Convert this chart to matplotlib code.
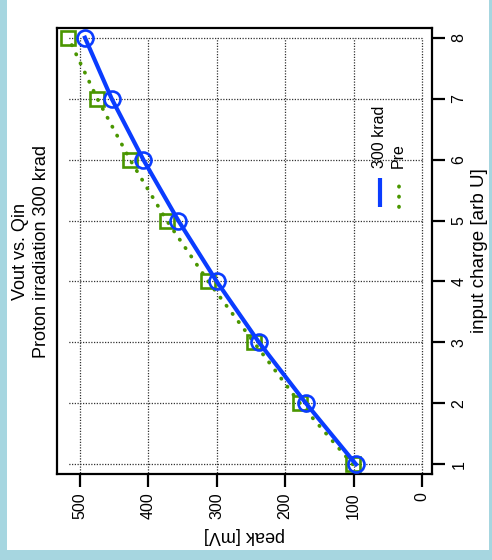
import numpy as np
import matplotlib.pyplot as plt
from matplotlib.patches import Rectangle

plt.rcParams["font.family"] = ["Liberation Sans", "DejaVu Sans"]

# ------------------------------------------------------------
# data: peak amplitude vs input charge, before / after irradiation
# ------------------------------------------------------------
charge = [1, 2, 3, 4, 5, 6, 7, 8]
peak_300krad = [96.5, 169.6, 238.3, 300.1, 356.3, 407.5, 453.7, 492.7]
peak_pre = [101.3, 178.4, 245.6, 312.4, 373.2, 426.9, 474.7, 517.1]

peak_ticks = [0, 100, 200, 300, 400, 500]

BLUE = "#0a3cff"
GREEN = "#4a9600"

# ------------------------------------------------------------
# figure (plot is drawn turned on its side: peak runs right-to-left)
# ------------------------------------------------------------
fig = plt.figure(figsize=(4.92, 5.6), dpi=100)
fig.patch.set_facecolor("#a6d6e0")
fig.patches.append(Rectangle((7 / 492, 1 - 550 / 560), 482 / 492, 550 / 560,
                             transform=fig.transFigure, facecolor="white",
                             edgecolor="none", zorder=-10))

ax = fig.add_axes([57 / 492, 1 - 474 / 560, 375 / 492, 446 / 560])
ax.set_zorder(1)
ax.set_xlim(533.6, -14.6)
ax.set_ylim(0.841, 8.159)

# dotted grid
ax.vlines(peak_ticks, 0, max(charge), colors="#333333", linestyles=(0, (1, 1.2)),
          linewidth=0.9, zorder=1)
ax.hlines(charge, 0, max(peak_pre), colors="#333333", linestyles=(0, (1, 1.2)),
          linewidth=0.9, zorder=1)

ax.plot(peak_pre, charge, color=GREEN, linestyle=(0, (0.1, 2.6)), linewidth=2.7,
        dash_capstyle="round", marker="s", markersize=10, markerfacecolor="none",
        markeredgewidth=1.9, zorder=3)
ax.plot(peak_300krad, charge, color=BLUE, linewidth=3.0, marker="o",
        markersize=11.5, markerfacecolor="none", markeredgewidth=1.9, zorder=4)

# axes styling
for s in ax.spines.values():
    s.set_linewidth(1.6)
ax.yaxis.tick_right()
ax.set_xticks(peak_ticks)
ax.set_yticks(charge)
ax.tick_params(axis="both", length=9, width=1.6, labelsize=11.5)
ax.tick_params(axis="x", labelrotation=90, pad=4)
ax.tick_params(axis="y", labelrotation=90, pad=5)
for lab in ax.get_yticklabels():
    lab.set_va("center")

ax.set_xlabel("peak [mV]", fontsize=13, rotation=180, labelpad=6)
fig.text(479 / 492, 1 - 251 / 560, "input charge [arb U]", rotation=90,
         ha="center", va="center", fontsize=13.5)

# legend keys
ax.plot([0.861, 0.861], [0.599, 0.664], color=BLUE, linewidth=3.0,
        transform=ax.transAxes, solid_capstyle="butt")
ax.plot([0.911, 0.911], [0.599, 0.664], color=GREEN, linestyle=(0, (0.1, 2.6)),
        linewidth=2.7, dash_capstyle="round", transform=ax.transAxes)
ax.text(0.861, 0.686, "300 krad", rotation=90, ha="center", va="bottom",
        fontsize=11.5, transform=ax.transAxes)
ax.text(0.911, 0.686, "Pre", rotation=90, ha="center", va="bottom",
        fontsize=11.5, transform=ax.transAxes)

# title on the left side
fig.text(21 / 492, 1 - 251 / 560, "Vout vs. Qin", rotation=90, ha="center",
         va="center", fontsize=13)
fig.text(42 / 492, 1 - 251 / 560, "Proton irradiation 300 krad", rotation=90,
         ha="center", va="center", fontsize=13)

fig.savefig("out.png", dpi=100)
